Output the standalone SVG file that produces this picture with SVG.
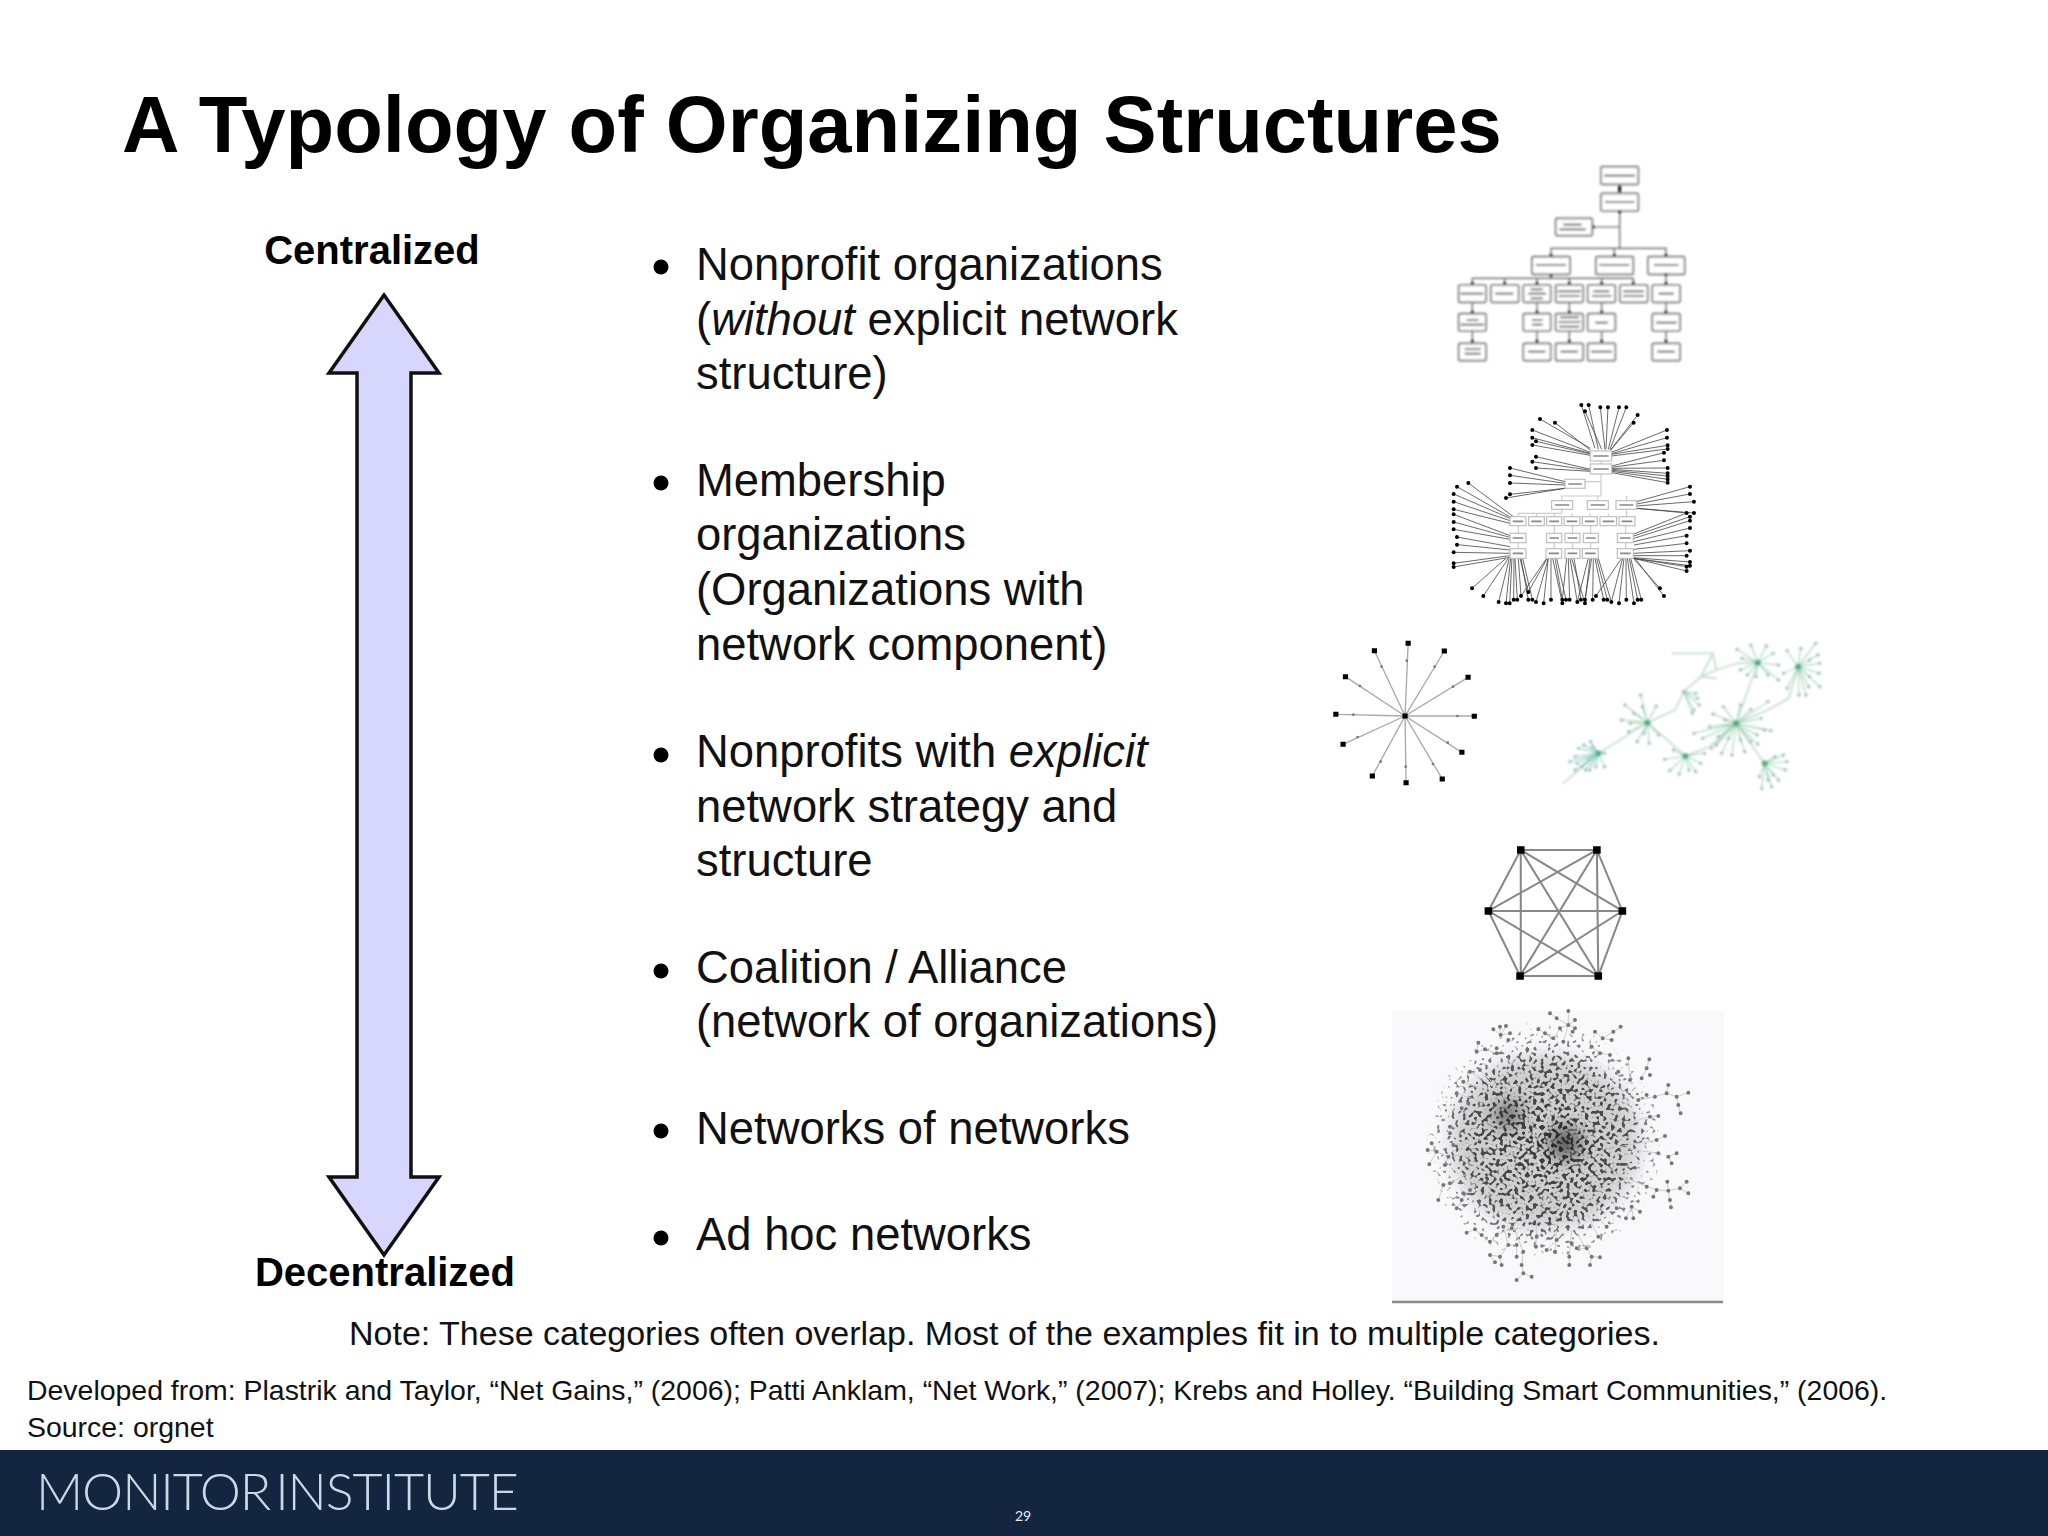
<svg xmlns="http://www.w3.org/2000/svg" width="2048" height="1536" viewBox="0 0 2048 1536">
<style>
text{font-family:"Liberation Sans",Arial,sans-serif;fill:#111}
.title{font-size:79.6px;font-weight:700;fill:#000}
.axis{font-size:40px;font-weight:700;fill:#000;text-anchor:middle}
.b{font-size:45.4px}
.i{font-style:italic}
.box{fill:#fff;stroke:#6e6e6e;stroke-width:5}
.ol{fill:none;stroke:#555;stroke-width:3.5}
.smudge{fill:none;stroke:#555;stroke-width:5}
.spoke{fill:none;stroke:#444;stroke-width:2.4}
.dots{fill:none;stroke:#000;stroke-width:12;stroke-linecap:round}
.gn{fill:none;stroke:#a0d2b6;stroke-width:3}
</style>
<defs>
<filter id="soft" x="-5%" y="-5%" width="110%" height="110%"><feGaussianBlur stdDeviation="2.4"/></filter>
<filter id="softer" x="-5%" y="-5%" width="110%" height="110%"><feGaussianBlur stdDeviation="1.2"/></filter>
<filter id="soft2" x="-50%" y="-50%" width="200%" height="200%"><feGaussianBlur stdDeviation="9"/></filter>
<filter id="speck" x="0" y="0" width="100%" height="100%" color-interpolation-filters="sRGB">
<feTurbulence type="fractalNoise" baseFrequency="0.27" numOctaves="1" seed="11" result="n"/>
<feColorMatrix in="n" values="0 0 0 0 0 0 0 0 0 0 0 0 0 0 0 0 0 0 1 0" result="a"/>
<feComposite in="a" in2="SourceGraphic" operator="arithmetic" k1="0" k2="1" k3=".25" k4="0" result="s"/>
<feColorMatrix in="s" values="0 0 0 0 .22 0 0 0 0 .22 0 0 0 0 .22 0 0 0 9 -6.6"/>
<feGaussianBlur stdDeviation="0.6"/>
<feComposite in2="SourceGraphic" operator="in"/>
</filter>
<radialGradient id="cl"><stop offset="0" stop-color="#000" stop-opacity="1"/><stop offset=".65" stop-color="#000" stop-opacity=".85"/><stop offset=".92" stop-color="#000" stop-opacity=".5"/><stop offset="1" stop-color="#000" stop-opacity="0"/></radialGradient>
<marker id="gd" markerUnits="userSpaceOnUse" markerWidth="12" markerHeight="12" refX="6" refY="6"><circle cx="6" cy="6" r="5" fill="#9dbfc0"/></marker>
</defs>
<rect width="2048" height="1536" fill="#fff"/>

<g id="title"><text class="title" x="122" y="152">A Typology of Organizing Structures</text></g>

<g id="axis">
<path d="M384 295L439 373H411V1177H439L384 1255L329 1177H357V373H329Z" fill="#d7d7fd" stroke="#111" stroke-width="3.5"/>
<text class="axis" x="372" y="264">Centralized</text>
<text class="axis" x="385" y="1286">Decentralized</text>
</g>

<g id="list">
<circle cx="661" cy="267" r="7.5"/><circle cx="661" cy="483" r="7.5"/><circle cx="661" cy="755" r="7.5"/><circle cx="661" cy="971" r="7.5"/><circle cx="661" cy="1131" r="7.5"/><circle cx="661" cy="1238" r="7.5"/>
<text class="b" x="696" y="280">Nonprofit organizations</text>
<text class="b" x="696" y="335">(<tspan class="i">without</tspan> explicit network</text>
<text class="b" x="696" y="389">structure)</text>
<text class="b" x="696" y="496">Membership</text>
<text class="b" x="696" y="550">organizations</text>
<text class="b" x="696" y="605">(Organizations with</text>
<text class="b" x="696" y="660">network component)</text>
<text class="b" x="696" y="767">Nonprofits with <tspan class="i">explicit</tspan></text>
<text class="b" x="696" y="822">network strategy and</text>
<text class="b" x="696" y="876">structure</text>
<text class="b" x="696" y="983">Coalition / Alliance</text>
<text class="b" x="696" y="1037">(network of organizations)</text>
<text class="b" x="696" y="1144">Networks of networks</text>
<text class="b" x="696" y="1250">Ad hoc networks</text>
</g>

<g id="orgchart" transform="translate(1420 150) scale(.3333)" filter="url(#soft)">
<path class="ol" d="M599 103V130M599 183V295M520 231H599M393 320V295H738V320M583 295V320M393 373V385M157 405V385H640V405M254 385V405M351 385V405M448 385V405M545 385V405M738 373V405M157 457V580M351 457V580M448 457V580M545 457V580M738 457V580"/>
<g class="box">
<rect x="543" y="50" width="112" height="53" rx="4"/><rect x="543" y="130" width="112" height="53" rx="4"/><rect x="407" y="205" width="110" height="52" rx="4"/>
<rect x="336" y="320" width="114" height="53" rx="4"/><rect x="528" y="320" width="112" height="53" rx="4"/><rect x="684" y="320" width="110" height="53" rx="4"/>
<rect x="116" y="405" width="82" height="52" rx="4"/><rect x="213" y="405" width="83" height="52" rx="4"/><rect x="310" y="405" width="82" height="52" rx="4"/><rect x="407" y="405" width="82" height="52" rx="4"/><rect x="503" y="405" width="83" height="52" rx="4"/><rect x="600" y="405" width="83" height="52" rx="4"/><rect x="697" y="405" width="83" height="52" rx="4"/>
<rect x="116" y="491" width="82" height="52" rx="4"/><rect x="310" y="491" width="82" height="52" rx="4"/><rect x="407" y="491" width="82" height="52" rx="4"/><rect x="503" y="491" width="83" height="52" rx="4"/><rect x="697" y="491" width="83" height="52" rx="4"/>
<rect x="116" y="580" width="82" height="52" rx="4"/><rect x="310" y="580" width="82" height="52" rx="4"/><rect x="407" y="580" width="82" height="52" rx="4"/><rect x="503" y="580" width="83" height="52" rx="4"/><rect x="697" y="580" width="83" height="52" rx="4"/>
</g>
<path class="smudge" d="M552 77H645M555 156H643M430 224H485M418 238H497M348 345H438M538 345H628M702 345H776M122 431H190M226 431H280M332 418H368M325 431H378M332 445H368M413 424H483M416 438H480M520 424H568M516 438H574M610 424H672M610 438H672M716 431H762M140 510H175M122 524H192M336 510H368M336 524H368M420 502H478M416 516H482M418 530H478M526 518H564M708 518H770M134 597H182M134 611H182M324 605H376M422 605H474M514 605H576M712 605H764"/>
<path d="M599 124V110M599 184V186M520 231V231M393 316V316M583 316V316M738 316V316M393 376V376M157 400V400M254 400V400M351 400V400M448 400V400M545 400V400M640 400V400M738 400V400M738 373V373M157 486V486M157 573V573M351 486V486M351 573V573M448 486V486M448 573V573M545 486V486M545 573V573M738 486V486M738 573V573" fill="none" stroke="#111" stroke-width="9" stroke-linecap="round"/>
</g>

<g id="membership" transform="translate(1420 390) scale(.3333)" filter="url(#softer)">
<path class="spoke" d="M525 175L484 45M535 178L506 45M545 178L495 64M555 178L541 52M558 178L564 52M565 178L597 52M570 178L619 52M572 180L653 75M572 180L641 98M511 175L360 87M511 180L405 98M511 187L337 120M511 190L337 143M511 192L348 154M511 196L337 165M575 187L741 120M575 191L741 143M575 193L743 166M575 198L743 177M511 238L348 200M511 241L337 215M511 244L348 234M575 228L732 188M575 232L732 211M575 235L743 234M575 238L743 250M575 241L743 258M575 244L743 268M575 248L743 278M435 275L270 234M435 280L270 256M435 285L270 279M435 295L270 313M435 295L258 324M280 380L145 279M272 382L111 290M270 385L101 312M270 392L101 335M270 400L101 358M270 437L101 373M270 442L101 396M270 448L101 418M270 470L111 441M270 480L111 464M270 490L101 487M270 497L101 520M270 502L101 531M258 505L156 595M265 505L190 618M268 505L236 636M272 505L258 640M276 505L269 640M282 505L281 629M285 505L292 629M295 505L303 618M300 505L325 606M303 505L325 629M308 505L337 629M380 505L303 618M382 505L325 606M385 505L348 636M385 505L371 640M393 505L393 629M398 505L427 640M405 505L427 629M410 505L438 629M440 505L427 629M445 505L449 629M450 505L472 636M455 505L495 640M462 505L483 629M505 505L472 636M510 505L495 640M515 505L495 629M520 505L518 629M525 505L551 629M530 505L562 629M535 505L574 636M605 505L528 618M608 505L574 636M612 505L597 640M618 505L619 629M622 505L642 640M628 505L653 629M632 505L664 629M640 505L720 595M645 505L732 618M650 335L810 290M650 342L810 312M650 348L822 335M650 355L800 369M650 355L822 369M642 432L800 369M642 438L810 380M642 445L810 392M642 455L810 414M642 465L800 437M642 478L800 460M640 490L810 482M640 497L800 497M640 503L810 516M640 505L800 530M640 505L810 527M640 505L800 543"/>
<path class="dots" d="M484 45h0M506 45h0M495 64h0M541 52h0M564 52h0M597 52h0M619 52h0M653 75h0M641 98h0M360 87h0M405 98h0M337 120h0M337 143h0M348 154h0M337 165h0M741 120h0M741 143h0M743 166h0M743 177h0M348 200h0M337 215h0M348 234h0M732 188h0M732 211h0M743 234h0M743 250h0M743 258h0M743 268h0M743 278h0M270 234h0M270 256h0M270 279h0M270 313h0M258 324h0M145 279h0M111 290h0M101 312h0M101 335h0M101 358h0M101 373h0M101 396h0M101 418h0M111 441h0M111 464h0M101 487h0M101 520h0M101 531h0M156 595h0M190 618h0M236 636h0M258 640h0M269 640h0M281 629h0M292 629h0M303 618h0M325 606h0M325 629h0M337 629h0M348 636h0M371 640h0M393 629h0M427 640h0M427 629h0M438 629h0M449 629h0M472 636h0M495 640h0M483 629h0M495 629h0M518 629h0M551 629h0M562 629h0M574 636h0M528 618h0M597 640h0M619 629h0M642 640h0M653 629h0M664 629h0M720 595h0M732 618h0M810 290h0M810 312h0M822 335h0M800 369h0M822 369h0M810 380h0M810 392h0M810 414h0M800 437h0M800 460h0M810 482h0M800 497h0M810 516h0M800 530h0M810 527h0M800 543h0"/>
<path class="ol" d="M543 213V222M543 252V318H425V332M533 318V332M620 318V332M495 275H543M425 358V370H295V380M350 370V380M403 370V380M456 370V380M510 370V380M565 370V380M620 358V380M295 407V476M403 407V476M458 407V476M512 407V476M617 407V476" style="stroke:#ccc"/>
<g fill="#fff" stroke="#bdbdbd" stroke-width="3.5">
<rect x="511" y="183" width="64" height="30"/><rect x="511" y="222" width="64" height="30"/><rect x="435" y="268" width="60" height="27"/>
<rect x="395" y="332" width="63" height="26"/><rect x="502" y="332" width="63" height="26"/><rect x="588" y="332" width="62" height="26"/>
<rect x="270" y="380" width="48" height="27"/><rect x="326" y="380" width="47" height="27"/><rect x="380" y="380" width="45" height="27"/><rect x="432" y="380" width="48" height="27"/><rect x="487" y="380" width="45" height="27"/><rect x="540" y="380" width="50" height="27"/><rect x="597" y="380" width="48" height="27"/>
<rect x="270" y="430" width="48" height="28"/><rect x="380" y="430" width="45" height="28"/><rect x="435" y="430" width="45" height="28"/><rect x="490" y="430" width="45" height="28"/><rect x="592" y="430" width="48" height="28"/>
<rect x="270" y="476" width="48" height="29"/><rect x="378" y="476" width="47" height="29"/><rect x="435" y="476" width="45" height="29"/><rect x="487" y="476" width="48" height="29"/><rect x="592" y="476" width="48" height="29"/>
</g>
<path d="M520 198H566M520 237H566M445 282H485M405 345H448M512 345H555M598 345H640M278 394H310M334 394H365M388 394H417M440 394H472M495 394H524M548 394H582M605 394H637M278 444H310M388 444H417M443 444H472M498 444H527M600 444H632M278 490H310M386 490H417M443 490H472M495 490H527M600 490H632" fill="none" stroke="#888" stroke-width="5"/>
</g>

<g id="star" transform="translate(1310 620) scale(.3444 .3333)" filter="url(#softer)">
<path d="M276 288L285 70M276 288L390 93M276 288L459 172M276 288H477M276 288L441 397M276 288L384 477M276 288L279 488M276 288L181 468M276 288L96 373M276 288L75 283M276 288L103 170M276 288L187 92" fill="none" stroke="#aaa" stroke-width="4"/>
<path d="M281 122V122M362 140V140M415 200V200M428 288V288M400 368V368M357 432V432M278 440V440M205 425V425M138 351V351M126 284V284M145 198V198M208 140V140" fill="none" stroke="#777" stroke-width="8" stroke-linecap="round"/>
<path d="M276 288h0M285 70h0M390 93h0M459 172h0M477 289h0M441 397h0M384 477h0M279 488h0M181 468h0M96 373h0M75 283h0M103 170h0M187 92h0" fill="none" stroke="#000" stroke-width="15" stroke-linecap="square"/>
</g>

<g id="green-network" transform="translate(1310 620) scale(.3444 .3333)" filter="url(#soft)">
<path class="gn" d="M735 490L838 400L980 308L1060 270L1085 215L1135 170L1170 100L1050 100M1135 170L1180 150L1240 130L1300 128L1237 310L1320 430M1237 310L1330 270L1390 235L1417 140M980 308L1090 408L1160 380L1237 310M1135 170L1180 175M1170 100L1180 150" style="stroke-width:5;stroke:#c3dccf"/>
<path class="gn" marker-mid="url(#gd)" marker-end="url(#gd)" style="stroke:#8fcfc6" d="M838 400L815 365L838 400L780 385L838 400L755 425L838 400L770 450L838 400L800 450L838 400L855 440L838 400L855 400L838 400L810 420L838 400L770 410L838 400L830 440L838 400L790 440L838 400L795 375L838 400L775 430L838 400L820 380L838 400L812 450"/>
<path class="gn" marker-mid="url(#gd)" marker-end="url(#gd)" d="M980 308L960 225L980 308L1005 258L980 308L915 255L980 308L905 300L980 308L925 335L980 308L950 365L980 308L985 370L980 308L1012 345L980 308L965 260L980 308L940 280L980 308L930 310L980 308L970 340M1090 408L1030 418L1090 408L1045 452L1090 408L1072 462L1090 408L1120 455L1090 408L1135 430L1090 408L1145 400L1090 408L1055 390L1090 408L1100 450M1237 310L1330 245L1237 310L1338 332L1237 310L1298 345L1237 310L1300 372L1237 310L1262 395L1237 310L1225 405L1237 310L1195 400L1237 310L1165 385L1237 310L1115 340L1237 310L1170 282L1237 310L1200 260L1237 310L1250 255L1237 310L1280 268L1237 310L1310 295L1237 310L1160 320L1237 310L1185 350L1237 310L1280 365L1237 310L1140 355L1237 310L1205 300L1237 310L1215 355L1237 310L1250 360L1237 310L1180 375L1237 310L1320 330M1320 430L1375 405L1320 430L1385 425L1320 430L1380 450L1320 430L1360 480L1320 430L1340 500L1320 430L1312 505L1320 430L1305 470L1320 430L1350 410L1320 430L1345 465L1320 430L1330 480M1300 128L1280 75L1300 128L1325 78L1300 128L1240 88L1300 128L1360 135L1300 128L1360 180L1300 128L1330 165L1300 128L1270 165L1300 128L1250 150L1300 128L1345 100L1300 128L1295 170L1300 128L1255 115M1417 140L1385 92L1417 140L1425 85L1417 140L1468 70L1417 140L1475 105L1417 140L1480 130L1417 140L1478 160L1417 140L1480 200L1417 140L1448 200L1417 140L1420 225L1417 140L1385 205L1417 140L1375 160L1417 140L1450 120L1417 140L1450 170L1417 140L1440 225M1085 215L1125 235L1085 215L1115 270L1085 215L1130 255L1085 215L1110 280L1085 215L1120 220"/>
<path d="M980 308h0M1237 310h0M1300 128h0M1417 140h0M1090 408h0M1320 430h0M838 400h0" fill="none" stroke="#2f9a63" stroke-width="18" stroke-linecap="round" opacity=".65"/>
</g>

<g id="hexagon" transform="translate(1310 620) scale(.3444 .3333)" filter="url(#softer)">
<path d="M612 690H833L907 873L837 1068H610L518 873ZM612 690V1068M833 690L837 1068M612 690L907 873M612 690L837 1068M833 690L518 873M833 690L610 1068M518 873H907M518 873L837 1068M907 873L610 1068" fill="none" stroke="#888" stroke-width="6"/>
<path d="M612 690h0M833 690h0M907 873h0M837 1068h0M610 1068h0M518 873h0" fill="none" stroke="#000" stroke-width="22" stroke-linecap="square"/>
</g>

<g id="adhoc-network">
<rect x="1392" y="1011" width="332" height="291" fill="#f9f9fb"/>
<path d="M1392 1302H1723" stroke="#8a8a8a" stroke-width="2.5"/>
<ellipse cx="1545" cy="1142" rx="95" ry="88" fill="#555" opacity=".25" filter="url(#soft2)"/>
<circle cx="1545" cy="1142" r="122" fill="url(#cl)" filter="url(#speck)"/>
<circle cx="1508" cy="1115" r="13" fill="#222" opacity=".6" filter="url(#soft2)"/>
<circle cx="1565" cy="1143" r="14" fill="#111" opacity=".75" filter="url(#soft2)"/>
<g transform="translate(1380 1000) scale(.3333)" filter="url(#softer)">
<path d="M510 40L530 55L565 75L565 33M585 60L565 75L540 85L520 115L495 100L475 88M585 85L565 75L550 125M340 88L362 105L360 80M378 78L362 105L390 100M295 128L290 155L315 148L350 160M645 95L668 115L700 95L722 80M668 115L695 120M635 140L660 160L690 165M745 175L750 240M808 178L800 205L785 235M865 255L860 280L890 290L925 278M890 290L895 315L902 340M860 280L825 290L775 300M835 348L810 350L740 370M855 408L830 420L720 440M890 460L865 470L875 490M835 460L700 440M862 545L865 572L830 570L820 590M920 545L900 565L865 572L873 622M925 580L900 565M830 570L700 520M780 635L755 620L738 655M755 620L760 655M710 625L660 560M680 680L620 620M655 710L620 640M660 772L635 770L590 700M630 795L635 770M568 795L568 770L575 690M590 745L620 745M525 755L530 690M500 750L530 720M468 740L470 650M410 840L430 820L455 830M430 820L425 795L430 755L400 680M410 770L410 735L385 735L370 680M345 787L330 765L360 770L365 795M360 770L385 735M260 698L285 688L305 705L330 725L350 705L395 685M175 600L190 555L210 550L300 500M230 625L245 600L270 570L320 540M148 493L170 455L143 450M155 430L170 455L205 470L280 460M195 495L205 470M220 435L300 420M210 380L300 390M230 280L320 310M250 245L330 280M270 215L340 260M300 210L350 260" fill="none" stroke="#ccc" stroke-width="3"/>
<path d="M510 40h0M565 33h0M530 55h0M585 60h0M565 75h0M540 85h0M585 85h0M578 95h0M475 88h0M495 100h0M520 115h0M550 125h0M340 88h0M360 80h0M378 78h0M390 100h0M362 105h0M385 120h0M295 128h0M290 155h0M315 148h0M350 145h0M350 160h0M645 95h0M668 115h0M700 95h0M722 80h0M695 120h0M635 140h0M660 160h0M690 165h0M745 175h0M808 178h0M800 205h0M810 225h0M785 235h0M715 215h0M750 240h0M865 255h0M860 280h0M890 290h0M925 278h0M895 315h0M902 340h0M825 290h0M800 285h0M775 300h0M835 348h0M810 350h0M855 408h0M830 420h0M890 460h0M865 470h0M875 490h0M835 460h0M862 545h0M920 545h0M900 565h0M925 580h0M865 572h0M830 570h0M820 590h0M870 600h0M873 622h0M800 560h0M780 635h0M755 620h0M738 655h0M760 655h0M710 625h0M680 680h0M655 710h0M660 772h0M635 770h0M630 795h0M568 795h0M568 770h0M590 745h0M620 745h0M575 730h0M525 755h0M500 750h0M530 720h0M470 710h0M468 740h0M410 840h0M430 820h0M455 830h0M425 795h0M430 755h0M410 770h0M410 735h0M385 735h0M345 787h0M330 765h0M360 770h0M365 795h0M260 698h0M285 688h0M305 705h0M330 725h0M350 705h0M395 685h0M370 680h0M175 600h0M190 555h0M210 550h0M230 625h0M245 600h0M270 570h0M250 580h0M148 493h0M143 450h0M155 430h0M170 455h0M205 470h0M195 495h0M220 435h0M210 380h0M210 400h0M230 280h0M250 245h0M270 215h0M300 210h0M245 325h0M265 310h0" fill="none" stroke="#777" stroke-width="12" stroke-linecap="round"/>
</g>
</g>

<g id="notes">
<text x="349" y="1345" font-size="34">Note: These categories often overlap. Most of the examples fit in to multiple categories.</text>
<text x="27" y="1400" font-size="28.45">Developed from: Plastrik and Taylor, “Net Gains,” (2006); Patti Anklam, “Net Work,” (2007); Krebs and Holley. “Building Smart Communities,” (2006).</text>
<text x="27" y="1437" font-size="28.45">Source: orgnet</text>
</g>

<g id="footer">
<rect y="1450" width="2048" height="86" fill="#14253f"/>
<text x="36" y="1510" font-size="52" style="font-family:Lato,sans-serif;font-weight:300;fill:#ccd8e6;letter-spacing:-1.1px;word-spacing:-8px">MONITOR INSTITUTE</text>
<text x="1023" y="1521" font-size="14" text-anchor="middle" style="font-family:Lato,sans-serif;fill:#e8edf3">29</text>
</g>
</svg>
